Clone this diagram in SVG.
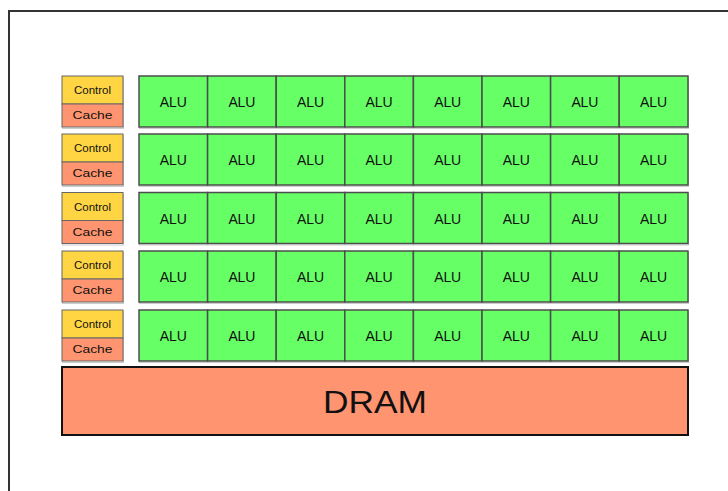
<svg xmlns="http://www.w3.org/2000/svg" width="728" height="491" viewBox="0 0 728 491">
<defs>
<style>
.alu{fill:#66ff66;stroke:#4d4d4d;stroke-width:1.5}
.ctl{fill:#ffd543;stroke:#666;stroke-width:1}
.cch{fill:#ff9470;stroke:#666;stroke-width:1}
.t{font-family:"Liberation Sans",Arial,sans-serif;fill:#111;text-anchor:middle}
.ta{font-size:14px}
.tc{font-size:10.5px}
.sh{fill:none;stroke:#ccc;stroke-width:1}
</style>
<g id="aluRow">
<rect class="sh" x="139.5" y="1.5" width="549" height="51"/>
<rect class="alu" x="139" y="0" width="68.6" height="51"/>
<rect class="alu" x="207.6" y="0" width="68.6" height="51"/>
<rect class="alu" x="276.2" y="0" width="68.6" height="51"/>
<rect class="alu" x="344.8" y="0" width="68.6" height="51"/>
<rect class="alu" x="413.4" y="0" width="68.6" height="51"/>
<rect class="alu" x="482" y="0" width="68.6" height="51"/>
<rect class="alu" x="550.6" y="0" width="68.6" height="51"/>
<rect class="alu" x="619.2" y="0" width="68.8" height="51"/>
<text class="t ta" x="173.3" y="31" textLength="27">ALU</text>
<text class="t ta" x="241.9" y="31" textLength="27">ALU</text>
<text class="t ta" x="310.5" y="31" textLength="27">ALU</text>
<text class="t ta" x="379.1" y="31" textLength="27">ALU</text>
<text class="t ta" x="447.7" y="31" textLength="27">ALU</text>
<text class="t ta" x="516.3" y="31" textLength="27">ALU</text>
<text class="t ta" x="584.9" y="31" textLength="27">ALU</text>
<text class="t ta" x="653.6" y="31" textLength="27">ALU</text>
</g>
<g id="ccBox">
<rect class="sh" x="62.5" y="1.5" width="61" height="51"/>
<rect class="ctl" x="62" y="0" width="61" height="28"/>
<rect class="cch" x="62" y="28" width="61" height="23"/>
<text class="t tc" x="92.5" y="18" textLength="37" lengthAdjust="spacingAndGlyphs">Control</text>
<text class="t tc" x="92.5" y="43.3" style="font-size:11px" textLength="40" lengthAdjust="spacingAndGlyphs">Cache</text>
</g>
</defs>
<rect width="728" height="491" fill="#fff"/>
<path d="M9 491 V11 H728" fill="none" stroke="#333" stroke-width="2"/>
<g id="row1"><use href="#ccBox" y="76"/><use href="#aluRow" y="76"/></g>
<g id="row2"><use href="#ccBox" y="134"/><use href="#aluRow" y="134"/></g>
<g id="row3"><use href="#ccBox" y="192.5"/><use href="#aluRow" y="192.5"/></g>
<g id="row4"><use href="#ccBox" y="251"/><use href="#aluRow" y="251"/></g>
<g id="row5"><use href="#ccBox" y="310"/><use href="#aluRow" y="310"/></g>
<g id="dram">
<rect x="62" y="367" width="626" height="68" fill="#ff9470" stroke="#111" stroke-width="2"/>
<text class="t" x="375" y="412.7" style="font-size:31px" textLength="104" lengthAdjust="spacingAndGlyphs">DRAM</text>
</g>
<g id="connectors"/>
</svg>
